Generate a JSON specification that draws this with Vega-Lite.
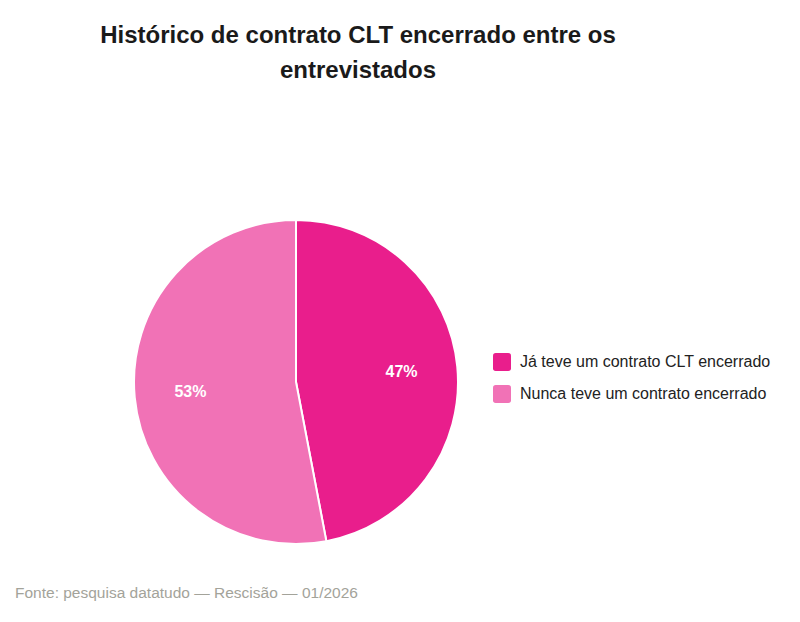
{
  "$schema": "https://vega.github.io/schema/vega-lite/v6.json",
  "background": "white",
  "padding": {"left": 15, "top": 24, "right": 0, "bottom": 0},
  "title": {
    "text": ["Histórico de contrato CLT encerrado entre os", "entrevistados"],
    "anchor": "start",
    "align": "center",
    "dx": 343,
    "font": "Liberation Sans",
    "fontSize": 24,
    "fontWeight": "bold",
    "color": "#1a1a1a",
    "lineHeight": 35,
    "offset": 116
  },
  "vconcat": [
    {
      "width": 562,
      "height": 366,
      "title": {
        "text": "Fonte: pesquisa datatudo — Rescisão — 01/2026",
        "orient": "bottom",
        "anchor": "start",
        "frame": "group",
        "font": "Liberation Sans",
        "fontSize": 15.5,
        "fontWeight": "normal",
        "color": "#a3a39a",
        "offset": 21
      },
      "data": {
        "values": [
          {"categoria": "Já teve um contrato CLT encerrado", "pct": 47, "rotulo": "47%", "ordem": 1},
          {"categoria": "Nunca teve um contrato encerrado", "pct": 53, "rotulo": "53%", "ordem": 2}
        ]
      },
      "encoding": {
        "theta": {"field": "pct", "type": "quantitative", "stack": true},
        "order": {"field": "ordem", "type": "quantitative"},
        "color": {
          "field": "categoria",
          "type": "nominal",
          "sort": ["Já teve um contrato CLT encerrado", "Nunca teve um contrato encerrado"],
          "scale": {
            "domain": ["Já teve um contrato CLT encerrado", "Nunca teve um contrato encerrado"],
            "range": ["#e91e8c", "#f172b6"]
          },
          "legend": {
            "title": null,
            "orient": "none",
            "legendX": 478,
            "legendY": 154,
            "symbolType": "M-0.7,-1H0.7Q1,-1,1,-0.7V0.7Q1,1,0.7,1H-0.7Q-1,1,-1,0.7V-0.7Q-1,-1,-0.7,-1Z",
            "symbolSize": 324,
            "symbolStrokeWidth": 0,
            "symbolOpacity": 1,
            "labelFont": "Liberation Sans",
            "labelFontSize": 16,
            "labelColor": "#222222",
            "labelOffset": 9,
            "labelLimit": 400,
            "rowPadding": 14
          }
        }
      },
      "layer": [
        {
          "mark": {"type": "arc", "outerRadius": 162, "stroke": "white", "strokeWidth": 2}
        },
        {
          "mark": {
            "type": "text",
            "radius": 106,
            "font": "Liberation Sans",
            "fontSize": 16,
            "fontWeight": "bold",
            "fill": "white",
            "baseline": "middle",
            "align": "center"
          },
          "encoding": {
            "text": {"field": "rotulo", "type": "nominal"},
            "color": {"value": "white"}
          }
        }
      ]
    }
  ],
  "config": {
    "view": {"stroke": null},
    "concat": {"spacing": 0}
  }
}
